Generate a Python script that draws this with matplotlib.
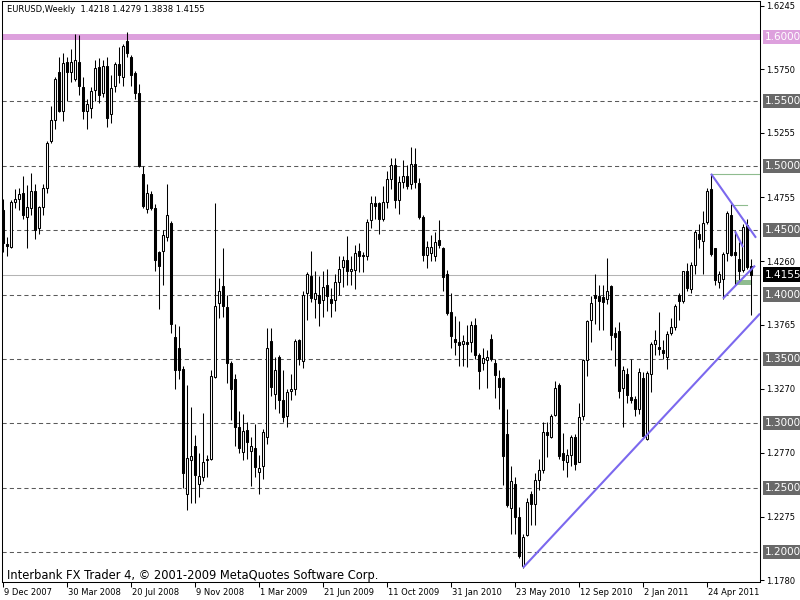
import matplotlib
matplotlib.use('Agg')
import matplotlib.pyplot as plt
from matplotlib.patches import Rectangle
from matplotlib.transforms import ScaledTranslation, blended_transform_factory

plt.rcParams['font.family'] = ['DejaVu Sans']

# EURUSD weekly bars, week of 9 Dec 2007 (bar 0) .. week of 10 Jul 2011 (bar 187)
opens = [1.4659, 1.4396, 1.4373, 1.4716, 1.4745, 1.4788, 1.4602, 1.4673, 1.4802, 1.4516,
         1.4679, 1.4831, 1.5189, 1.5355, 1.5728, 1.5424, 1.5805, 1.5728, 1.5676, 1.5805,
         1.5613, 1.5427, 1.5447, 1.5590, 1.5768, 1.5562, 1.5777, 1.5404, 1.5619, 1.5791,
         1.5691, 1.5969, 1.5848, 1.5719, 1.5562, 1.4940, 1.4668, 1.4782, 1.4673, 1.4330,
         1.4335, 1.4444, 1.4559, 1.3671, 1.3585, 1.3418, 1.2453, 1.2711, 1.2825, 1.2530,
         1.2582, 1.2711, 1.2725, 1.3361, 1.3934, 1.4063, 1.3906, 1.3470, 1.3341, 1.2969,
         1.2776, 1.2949, 1.2782, 1.2805, 1.2625, 1.2668, 1.2897, 1.3642, 1.3226, 1.3513,
         1.3184, 1.3055, 1.3247, 1.3269, 1.3648, 1.3484, 1.4009, 1.4143, 1.3963, 1.4000,
         1.3957, 1.4072, 1.3963, 1.3957, 1.4095, 1.4215, 1.4272, 1.4186, 1.4192, 1.4335,
         1.4307, 1.4301, 1.4582, 1.4708, 1.4708, 1.4587, 1.4716, 1.4897, 1.5009, 1.4731,
         1.4874, 1.4923, 1.4860, 1.5012, 1.4868, 1.4602, 1.4307, 1.4321, 1.4301, 1.4421,
         1.4358, 1.4158, 1.3865, 1.3656, 1.3628, 1.3619, 1.3628, 1.3628, 1.3765, 1.3533,
         1.3470, 1.3493, 1.3656, 1.3470, 1.3350, 1.3355, 1.2920, 1.2338, 1.2530, 1.2272,
         1.1894, 1.2129, 1.2453, 1.2376, 1.2562, 1.2639, 1.2931, 1.2897, 1.3063, 1.3298,
         1.2768, 1.2702, 1.2757, 1.2891, 1.2702, 1.3055, 1.3493, 1.3800, 1.4000, 1.3986,
         1.3980, 1.3963, 1.4066, 1.3705, 1.3719, 1.3275, 1.3384, 1.3203, 1.3189, 1.3112,
         1.3355, 1.2874, 1.3384, 1.3616, 1.3590, 1.3570, 1.3513, 1.3700, 1.3751, 1.3994,
         1.3951, 1.4181, 1.4043, 1.4229, 1.4473, 1.4416, 1.4565, 1.4822, 1.4364, 1.4095,
         1.4123, 1.4324, 1.4616, 1.4330, 1.4278, 1.4192, 1.4539, 1.4218]
highs = [1.4745, 1.4444, 1.4731, 1.4817, 1.4831, 1.4917, 1.4854, 1.4946, 1.4860, 1.4688,
         1.4860, 1.5189, 1.5461, 1.5691, 1.5848, 1.5877, 1.5848, 1.5906, 1.6020, 1.6015,
         1.5691, 1.5519, 1.5610, 1.5820, 1.5834, 1.5820, 1.5848, 1.5705, 1.5805, 1.5920,
         1.5948, 1.6038, 1.5863, 1.5734, 1.5633, 1.4997, 1.4860, 1.4802, 1.4702, 1.4340,
         1.4502, 1.4860, 1.4573, 1.3771, 1.3757, 1.3441, 1.3298, 1.3126, 1.2911, 1.2768,
         1.3083, 1.2754, 1.3413, 1.4708, 1.4129, 1.4364, 1.4000, 1.3484, 1.3384, 1.3097,
         1.3069, 1.3012, 1.2897, 1.2997, 1.2754, 1.2954, 1.3742, 1.3742, 1.3513, 1.3527,
         1.3413, 1.3269, 1.3384, 1.3656, 1.3656, 1.4029, 1.4172, 1.4338, 1.4186, 1.4143,
         1.4186, 1.4201, 1.4049, 1.4158, 1.4301, 1.4301, 1.4453, 1.4301, 1.4387, 1.4401,
         1.4330, 1.4587, 1.4765, 1.4765, 1.4716, 1.4845, 1.4960, 1.5060, 1.5060, 1.4917,
         1.5046, 1.5003, 1.5146, 1.5138, 1.4908, 1.4616, 1.4416, 1.4459, 1.4487, 1.4579,
         1.4373, 1.4192, 1.4014, 1.3834, 1.3791, 1.3685, 1.3762, 1.3791, 1.3820, 1.3542,
         1.3585, 1.3570, 1.3691, 1.3499, 1.3413, 1.3361, 1.3112, 1.2668, 1.2582, 1.2353,
         1.2138, 1.2416, 1.2473, 1.2616, 1.2725, 1.3012, 1.3012, 1.3075, 1.3332, 1.3312,
         1.2926, 1.2797, 1.2911, 1.2920, 1.3161, 1.3499, 1.3800, 1.3986, 1.4158, 1.4072,
         1.4077, 1.4281, 1.4077, 1.3751, 1.3785, 1.3441, 1.3427, 1.3499, 1.3212, 1.3427,
         1.3398, 1.3404, 1.3628, 1.3728, 1.3863, 1.3648, 1.3714, 1.3820, 1.3928, 1.4014,
         1.4186, 1.4244, 1.4249, 1.4502, 1.4544, 1.4645, 1.4831, 1.4940, 1.4364, 1.4186,
         1.4330, 1.4645, 1.4702, 1.4502, 1.4410, 1.4544, 1.4587, 1.4279]
lows = [1.4330, 1.4301, 1.4364, 1.4673, 1.4659, 1.4587, 1.4364, 1.4616, 1.4430, 1.4473,
        1.4616, 1.4788, 1.5175, 1.5289, 1.5418, 1.5347, 1.5504, 1.5648, 1.5662, 1.5547,
        1.5361, 1.5289, 1.5375, 1.5504, 1.5490, 1.5533, 1.5304, 1.5332, 1.5576, 1.5642,
        1.5619, 1.5848, 1.5619, 1.5519, 1.4990, 1.4673, 1.4630, 1.4659, 1.4186, 1.3885,
        1.4072, 1.4416, 1.3699, 1.3269, 1.3341, 1.2496, 1.2324, 1.2381, 1.2381, 1.2424,
        1.2553, 1.2582, 1.2711, 1.3350, 1.3814, 1.3828, 1.3312, 1.3026, 1.2825, 1.2768,
        1.2711, 1.2725, 1.2510, 1.2582, 1.2453, 1.2567, 1.2840, 1.3212, 1.3112, 1.3083,
        1.3012, 1.2969, 1.3184, 1.3218, 1.3456, 1.3427, 1.3800, 1.3943, 1.3814, 1.3757,
        1.3828, 1.3871, 1.3828, 1.3871, 1.4000, 1.4057, 1.4072, 1.4072, 1.4043, 1.4172,
        1.4172, 1.4272, 1.4516, 1.4587, 1.4473, 1.4573, 1.4673, 1.4817, 1.4673, 1.4622,
        1.4831, 1.4817, 1.4817, 1.4831, 1.4587, 1.4258, 1.4209, 1.4258, 1.4258, 1.4364,
        1.4029, 1.3843, 1.3585, 1.3527, 1.3441, 1.3441, 1.3436, 1.3556, 1.3499, 1.3269,
        1.3413, 1.3275, 1.3484, 1.3198, 1.3112, 1.2524, 1.2353, 1.2138, 1.2138, 1.1951,
        1.1878, 1.2123, 1.2209, 1.2209, 1.2482, 1.2611, 1.2739, 1.2883, 1.3055, 1.2725,
        1.2639, 1.2582, 1.2668, 1.2639, 1.2696, 1.3026, 1.3370, 1.3628, 1.3771, 1.3728,
        1.3728, 1.3928, 1.3570, 1.3441, 1.3198, 1.2969, 1.3155, 1.3155, 1.3055, 1.3069,
        1.2897, 1.2868, 1.3241, 1.3533, 1.3527, 1.3499, 1.3418, 1.3685, 1.3728, 1.3800,
        1.3934, 1.4029, 1.4014, 1.4158, 1.4358, 1.4158, 1.4544, 1.4301, 1.4072, 1.4049,
        1.3968, 1.4258, 1.4301, 1.4072, 1.4100, 1.4172, 1.4201, 1.3838]
closes = [1.4401, 1.4378, 1.4716, 1.4745, 1.4782, 1.4616, 1.4682, 1.4802, 1.4502, 1.4679,
          1.4831, 1.5175, 1.5355, 1.5676, 1.5424, 1.5797, 1.5728, 1.5805, 1.5820, 1.5619,
          1.5424, 1.5481, 1.5582, 1.5762, 1.5553, 1.5777, 1.5375, 1.5605, 1.5791, 1.5705,
          1.5934, 1.5877, 1.5705, 1.5562, 1.4997, 1.4688, 1.4788, 1.4673, 1.4272, 1.4221,
          1.4464, 1.4616, 1.3771, 1.3413, 1.3413, 1.2616, 1.2731, 1.2748, 1.2596, 1.2587,
          1.2696, 1.2725, 1.3370, 1.3914, 1.4029, 1.3914, 1.3470, 1.3269, 1.2969, 1.2811,
          1.2940, 1.2854, 1.2825, 1.2662, 1.2653, 1.2931, 1.3585, 1.3284, 1.3413, 1.3184,
          1.3046, 1.3241, 1.3269, 1.3636, 1.3499, 1.4000, 1.4163, 1.3971, 1.4014, 1.3934,
          1.4057, 1.3986, 1.3934, 1.4100, 1.4201, 1.4272, 1.4186, 1.4201, 1.4324, 1.4301,
          1.4301, 1.4567, 1.4708, 1.4688, 1.4587, 1.4716, 1.4897, 1.5009, 1.4731, 1.4874,
          1.4917, 1.4845, 1.5012, 1.4874, 1.4602, 1.4307, 1.4373, 1.4373, 1.4410, 1.4387,
          1.4135, 1.3857, 1.3676, 1.3628, 1.3608, 1.3636, 1.3616, 1.3765, 1.3527, 1.3407,
          1.3504, 1.3513, 1.3499, 1.3378, 1.3284, 1.2748, 1.2367, 1.2553, 1.2272, 1.1966,
          1.2118, 1.2387, 1.2376, 1.2562, 1.2639, 1.2931, 1.2911, 1.3055, 1.3275, 1.2748,
          1.2711, 1.2757, 1.2897, 1.2682, 1.3046, 1.3493, 1.3791, 1.3937, 1.3971, 1.3951,
          1.3943, 1.4029, 1.3685, 1.3671, 1.3247, 1.3413, 1.3218, 1.3184, 1.3112, 1.3398,
          1.2903, 1.3390, 1.3619, 1.3648, 1.3576, 1.3542, 1.3693, 1.3751, 1.3914, 1.3951,
          1.4181, 1.4049, 1.4229, 1.4487, 1.4430, 1.4559, 1.4802, 1.4315, 1.4115, 1.4163,
          1.4315, 1.4636, 1.4307, 1.4307, 1.4186, 1.4524, 1.4215, 1.4155]

date_bars = [0, 16, 32, 48, 64, 80, 96, 112, 128, 144, 160, 176]
date_labels = ['9 Dec 2007', '30 Mar 2008', '20 Jul 2008', '9 Nov 2008', '1 Mar 2009',
               '21 Jun 2009', '11 Oct 2009', '31 Jan 2010', '23 May 2010', '12 Sep 2010',
               '2 Jan 2011', '24 Apr 2011']
axis_prices = [1.6245, 1.5750, 1.5255, 1.4755, 1.4260, 1.3765, 1.3270, 1.2770, 1.2275, 1.1780]
levels = [1.5500, 1.5000, 1.4500, 1.4000, 1.3500, 1.3000, 1.2500, 1.2000]
pink_level = 1.6000
bid = 1.4155
title = 'EURUSD,Weekly  1.4218 1.4279 1.3838 1.4155'

# drawn objects (bar index, price)
trend_up = ([130, 189.25], [1.1878, 1.3852])
wedge_top = ([177, 188.25], [1.4938, 1.4441])
wedge_low = ([180, 188], [1.3969, 1.4225])
wedge_mid = ([183, 185], [1.4492, 1.4368])
green_lines = [([177, 189.25], 1.4938), ([182.25, 186], 1.4697)]
green_box = (183.25, 1.4074, 3.75, 0.0039)

fig = plt.figure(figsize=(8, 6), dpi=100)
ax = fig.add_axes([2 / 800, 18 / 600, 758 / 800, 581 / 600])
ax.set_xlim(-0.25, 189.25)
ax.set_ylim(1.1767, 1.6280)

for lv in levels:
    ax.axhline(lv, color='#5a5a5a', lw=0.75, dashes=(4, 3), zorder=1)
ax.axhline(pink_level, color='#dda0dd', lw=4.3, zorder=1)
ax.axhline(bid, color='#b4b4b4', lw=0.75, zorder=1)

xs = list(range(len(opens)))
ax.vlines(xs, lows, highs, color='black', lw=0.75, zorder=2)
bottoms = [min(o, c) for o, c in zip(opens, closes)]
heights = [max(abs(c - o), 0.0003) for o, c in zip(opens, closes)]
colors = ['white' if c >= o else 'black' for o, c in zip(opens, closes)]
ax.bar(xs, heights, bottom=bottoms, width=0.55, color=colors, edgecolor='black',
       linewidth=0.75, zorder=3)

for gx, gy in green_lines:
    ax.plot(gx, [gy, gy], color='#8fbc8f', lw=0.8, zorder=2)
ax.add_patch(Rectangle(green_box[:2], green_box[2], green_box[3], fc='#8fbc8f',
                       ec='none', zorder=2))
for tl in (trend_up, wedge_top, wedge_low, wedge_mid):
    ax.plot(tl[0], tl[1], color='#7b68ee', lw=1.5, zorder=4, solid_capstyle='butt')

for s in ax.spines.values():
    s.set_color('black')
    s.set_linewidth(0.75)

ax.yaxis.tick_right()
ax.set_yticks(axis_prices)
ax.set_yticklabels(['%.4f' % p for p in axis_prices])
ax.tick_params(axis='y', direction='out', length=3, width=0.75, pad=1.5, labelsize=6)
ax.set_xticks(date_bars)
ax.set_xticklabels(date_labels, ha='left')
ax.tick_params(axis='x', direction='out', length=3.5, width=0.75, pad=0.5, labelsize=6)
shift = ScaledTranslation(1 / 72, 0, fig.dpi_scale_trans)
for lbl in ax.get_xticklabels():
    lbl.set_transform(lbl.get_transform() + shift)

trans = blended_transform_factory(ax.transAxes, ax.transData)
boxes = [(pink_level, '#dda0dd')] + [(lv, '#696969') for lv in levels] + [(bid, 'black')]
for price, col in boxes:
    ax.text(1.0, price, '%.4f' % price, transform=trans + ScaledTranslation(3.5 / 72, 0, fig.dpi_scale_trans),
            ha='left', va='center', color='white', fontsize=7.5, clip_on=False, zorder=6,
            bbox=dict(boxstyle='square,pad=0.2', fc=col, ec='none'))

fig.text(7 / 800, 1 - 9 / 600, title, fontsize=6, va='center', ha='left')
fig.text(7 / 800, 1 - 576 / 600, 'Interbank FX Trader 4, \u00a9 2001-2009 MetaQuotes Software Corp.',
         fontsize=8.3, va='center', ha='left')

fig.savefig('out.png', dpi=100)
